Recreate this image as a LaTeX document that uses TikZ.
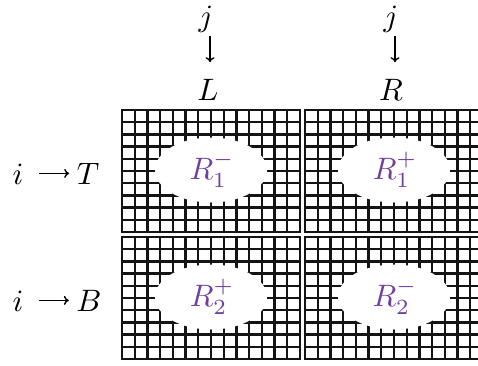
\documentclass[tikz,border=0pt]{standalone}
\usetikzlibrary{arrows.meta}
\definecolor{rpurple}{RGB}{112,64,160}
\definecolor{gridk}{RGB}{20,20,20}
\begin{document}
\begin{tikzpicture}[x=1pt,y=-1pt,
  lab/.style={font=\normalsize, scale=3.1, inner sep=0pt},
  rlab/.style={lab, text=rpurple},
  gridln/.style={line width=2.4pt, draw=gridk},
  boxln/.style={line width=2.6pt, draw=gridk},
  arr/.style={-{To[length=5pt,width=9pt]}, line width=1.4pt}
]
\useasboundingbox (0,0) rectangle (478,365);
\begin{scope}
\clip (0,0) rectangle (478,365);
\foreach \bx/\by/\nm/\txt in {122/110/tl/{R_1^-}, 305/110/tr/{R_1^+}, 122/237/bl/{R_2^+}, 305/237/br/{R_2^-}} {
  \foreach \k in {1,...,13} \draw[gridln] ({\bx+\k*178/14},\by) -- ({\bx+\k*178/14},{\by+122});
  \foreach \k in {1,...,9} \draw[gridln] (\bx,{\by+\k*12.2}) -- ({\bx+178},{\by+\k*12.2});
  \fill[white] ({\bx+89},{\by+60}) ellipse [x radius=56, y radius=32.5];
  \draw[boxln] (\bx,\by) rectangle ({\bx+178},{\by+122});
  \node[rlab] (\nm) at ({\bx+90},{\by+60}) {$\txt$};
}
\end{scope}
% column labels
\node[lab, anchor=base] (j1) at (206,26) {$j$};
\node[lab, anchor=base] (L) at (208,100) {$L$};
\node[lab, anchor=base] (j2) at (391,26) {$j$};
\node[lab, anchor=base] (R) at (391,100) {$R$};
\draw[arr, shorten <=3pt, shorten >=16pt] ([xshift=4pt]j1.south) -- ([xshift=4pt]j1.south |- L.north);
\draw[arr, shorten <=3pt, shorten >=16pt] ([xshift=4pt]j2.south) -- ([xshift=4pt]j2.south |- R.north);
% row labels
\node[lab, anchor=base] (i1) at (18,184) {$i$};
\node[lab, anchor=base] (T) at (88,184) {$T$};
\node[lab, anchor=base] (i2) at (18,311) {$i$};
\node[lab, anchor=base] (B) at (89,311) {$B$};
\draw[arr, shorten <=15pt, shorten >=7pt] (i1.east |- T.center) -- (T.west);
\draw[arr, shorten <=15pt, shorten >=7pt] (i2.east |- B.center) -- (B.west);
\end{tikzpicture}
\end{document}
